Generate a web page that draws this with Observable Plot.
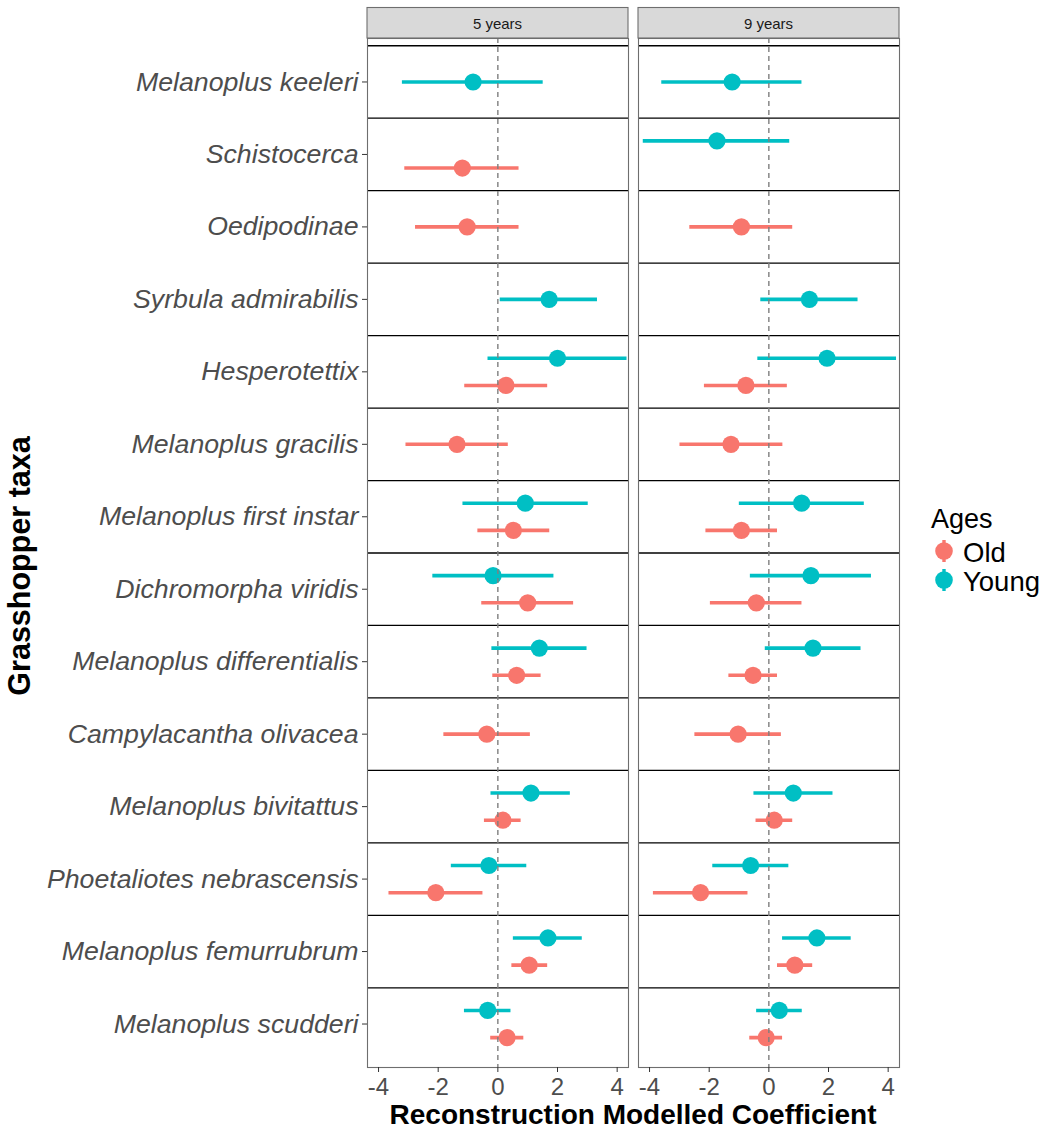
<!DOCTYPE html>
<html>
<head>
<meta charset="utf-8">
<script src="https://cdn.jsdelivr.net/npm/d3@7"></script>
<script src="https://cdn.jsdelivr.net/npm/@observablehq/plot@0.6"></script>
<style>
  body { margin: 0; background: #fff; }
  #wrap { position: relative; width: 1048px; height: 1131px; font-family: "Liberation Sans", Arial, sans-serif; }
</style>
</head>
<body>
<div id="wrap"></div>
<script>
// ---------- data ----------
const taxa = [
  "Melanoplus keeleri", "Schistocerca", "Oedipodinae", "Syrbula admirabilis",
  "Hesperotettix", "Melanoplus gracilis", "Melanoplus first instar",
  "Dichromorpha viridis", "Melanoplus differentialis", "Campylacantha olivacea",
  "Melanoplus bivitattus", "Phoetaliotes nebrascensis", "Melanoplus femurrubrum",
  "Melanoplus scudderi"
];
const panels = ["5 years", "9 years"];
const ages = ["Old", "Young"];
const ageColors = ["#F8766D", "#00BFC4"];
const xTicks = [-4, -2, 0, 2, 4];

// 5 years – Young
const young5Est = [-0.83, null, null, 1.72, 2.00, null, 0.92, -0.16, 1.39, null, 1.11, -0.30, 1.68, -0.34];
const young5Lo  = [-3.20, null, null, 0.08, -0.33, null, -1.17, -2.18, -0.20, null, -0.23, -1.56, 0.52, -1.12];
const young5Hi  = [1.52, null, null, 3.34, 4.33, null, 3.03, 1.88, 2.99, null, 2.43, 0.97, 2.83, 0.44];
// 5 years – Old
const old5Est = [null, -1.19, -1.03, null, 0.27, -1.37, 0.52, 1.00, 0.63, -0.37, 0.17, -2.08, 1.05, 0.31];
const old5Lo  = [null, -3.12, -2.76, null, -1.11, -3.08, -0.67, -0.54, -0.17, -1.81, -0.45, -3.65, 0.47, -0.24];
const old5Hi  = [null, 0.71, 0.71, null, 1.67, 0.35, 1.74, 2.54, 1.45, 1.09, 0.78, -0.50, 1.67, 0.87];
// 9 years – Young
const young9Est = [-1.23, -1.74, null, 1.36, 1.95, null, 1.10, 1.41, 1.48, null, 0.82, -0.61, 1.61, 0.35];
const young9Lo  = [-3.59, -4.21, null, -0.27, -0.37, null, -0.99, -0.62, -0.12, null, -0.50, -1.88, 0.46, -0.41];
const young9Hi  = [1.11, 0.70, null, 2.99, 4.28, null, 3.20, 3.44, 3.09, null, 2.15, 0.67, 2.76, 1.12];
// 9 years – Old
const old9Est = [null, null, -0.92, null, -0.77, -1.27, -0.92, -0.42, -0.53, -1.03, 0.18, -2.29, 0.87, -0.09];
const old9Lo  = [null, null, -2.65, null, -2.16, -2.98, -2.11, -1.96, -1.34, -2.48, -0.43, -3.87, 0.29, -0.64];
const old9Hi  = [null, null, 0.80, null, 0.62, 0.47, 0.29, 1.11, 0.29, 0.42, 0.80, -0.70, 1.47, 0.46];

// ---------- build table ----------
const series = [
  {panel: panels[0], age: "Young", est: young5Est, lo: young5Lo, hi: young5Hi},
  {panel: panels[0], age: "Old",   est: old5Est,   lo: old5Lo,   hi: old5Hi},
  {panel: panels[1], age: "Young", est: young9Est, lo: young9Lo, hi: young9Hi},
  {panel: panels[1], age: "Old",   est: old9Est,   lo: old9Lo,   hi: old9Hi}
];
const rows = [];
for (const s of series) {
  s.est.forEach((v, i) => {
    if (v != null) rows.push({panel: s.panel, age: s.age, taxon: taxa[i], idx: i, est: v, lo: s.lo[i], hi: s.hi[i]});
  });
}
const nT = taxa.length;
const agesPerTaxon = d3.rollup(rows, v => new Set(v.map(d => d.age)).size, d => d.taxon);
const dodgeWidth = 0.75;
rows.forEach(d => {
  const base = nT - d.idx;
  d.y = agesPerTaxon.get(d.taxon) > 1 ? base + (d.age === "Young" ? 1 : -1) * dodgeWidth / 4 : base;
});
const separators = d3.range(1.5, nT + 1, 1);

const FONT = '"Liberation Sans", Arial, sans-serif';

const chart = Plot.plot({
  width: 1048,
  height: 1131,
  marginLeft: 366,
  marginRight: 149,
  marginTop: 38,
  marginBottom: 64,
  style: {fontFamily: FONT, background: "#fff"},
  fx: {domain: panels, paddingInner: 0.037, paddingOuter: 0, axis: null, label: null},
  x: {domain: [-4.37, 4.38]},
  y: {domain: [0.4, nT + 0.6]},
  color: {domain: ages, range: ageColors},
  marks: [
    Plot.ruleY(separators, {stroke: "#000", strokeWidth: 1.3}),
    Plot.ruleY(rows, {fx: "panel", y: "y", x1: "lo", x2: "hi", stroke: "age", strokeWidth: 3.6}),
    Plot.dot(rows, {fx: "panel", x: "est", y: "y", fill: "age", r: 8.6}),
    Plot.ruleX([0], {stroke: "#7f7f7f", strokeDasharray: "5,4", strokeWidth: 1.4}),
    Plot.frame({stroke: "#6e6e6e", strokeWidth: 1.1}),
    Plot.axisX({ticks: xTicks, tickFormat: d => String(d), tickSize: 5, tickPadding: 5, fontSize: 24,
                stroke: "#333", fill: "#4D4D4D", label: null}),
    Plot.axisY({ticks: d3.range(1, nT + 1), tickFormat: i => taxa[nT - i], tickSize: 5, tickPadding: 4,
                fontSize: 26.7, fontStyle: "italic", stroke: "#333", fill: "#4D4D4D", label: null})
  ]
});

document.getElementById("wrap").appendChild(chart);

// ---------- strips, axis titles, legend ----------
const svg = d3.select(chart);
const fx = chart.scale("fx");
const bw = fx.bandwidth;
const strips = svg.append("g");
panels.forEach(p => {
  const x0 = fx.apply(p);
  strips.append("rect").attr("x", x0).attr("y", 7.5).attr("width", bw).attr("height", 30.5)
    .attr("fill", "#D9D9D9").attr("stroke", "#6e6e6e").attr("stroke-width", 1.1);
  strips.append("text").attr("x", x0 + bw / 2).attr("y", 28.5).attr("text-anchor", "middle")
    .attr("font-family", FONT).attr("font-size", 15).attr("fill", "#1a1a1a").text(p);
});

const left = fx.apply(panels[0]);
const right = fx.apply(panels[panels.length - 1]) + bw;
svg.append("text").attr("x", (left + right) / 2).attr("y", 1124).attr("text-anchor", "middle")
  .attr("font-family", FONT).attr("font-weight", "bold").attr("font-size", 28).attr("fill", "#000")
  .text("Reconstruction Modelled Coefficient");
svg.append("text").attr("transform", "translate(30,566) rotate(-90)").attr("text-anchor", "middle")
  .attr("font-family", FONT).attr("font-weight", "bold").attr("font-size", 30.5).attr("fill", "#000")
  .text("Grasshopper taxa");

const leg = svg.append("g").attr("font-family", FONT).attr("text-anchor", "start");
leg.append("text").attr("x", 931).attr("y", 528).attr("font-size", 27).attr("fill", "#000").text("Ages");
ages.forEach((a, i) => {
  const base = 561.5 + i * 29;
  const cy = base - 10.5;
  leg.append("line").attr("x1", 944).attr("x2", 944).attr("y1", cy - 11).attr("y2", cy + 11)
    .attr("stroke", ageColors[i]).attr("stroke-width", 3.4);
  leg.append("circle").attr("cx", 944).attr("cy", cy).attr("r", 8.8).attr("fill", ageColors[i]);
  leg.append("text").attr("x", 963).attr("y", base).attr("font-size", 27.5).attr("fill", "#000").text(a);
});
</script>
</body>
</html>
